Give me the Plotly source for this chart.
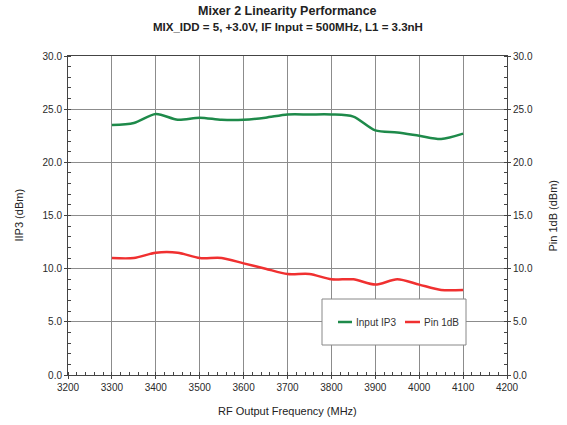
import plotly.graph_objects as go

freq = [3300, 3350, 3400, 3450, 3500, 3550, 3600, 3650, 3700, 3750, 3800, 3850, 3900, 3950, 4000, 4050, 4100]
iip3 = [23.5, 23.7, 24.55, 24.0, 24.2, 24.0, 24.0, 24.2, 24.5, 24.5, 24.5, 24.3, 23.0, 22.8, 22.5, 22.2, 22.7]
pin1db = [11.0, 11.0, 11.5, 11.5, 11.0, 11.0, 10.5, 10.0, 9.5, 9.5, 9.0, 9.0, 8.5, 9.0, 8.5, 8.0, 8.0]
series_names = ["Input IP3", "Pin 1dB"]
series_colors = ["#1e8a4a", "#f03030"]

font = "Liberation Sans, Arial, sans-serif"
grid = "#8c8c8c"
axcol = "#444444"
txt = "#222222"

fig = go.Figure()
fig.add_trace(go.Scatter(x=freq, y=iip3, name=series_names[0], mode="lines", showlegend=False,
                         line=dict(color=series_colors[0], width=2.5, shape="spline", smoothing=0.8)))
fig.add_trace(go.Scatter(x=freq, y=pin1db, name=series_names[1], mode="lines", yaxis="y2", showlegend=False,
                         line=dict(color=series_colors[1], width=2.5, shape="spline", smoothing=0.8)))

tickfont = dict(family=font, size=10, color="#2a2a2a")
L, R, T, B = 68, 60, 56, 50
ph = 425 - T - B
pw = 567 - L - R


def px(x):
    return (x - L) / pw


def py(y):
    return (425 - B - y) / ph


shapes = [dict(type="rect", xref="paper", yref="paper",
               x0=px(322), x1=px(466), y0=py(345), y1=py(299),
               line=dict(color="#888888", width=1), fillcolor="white", layer="above")]
annotations = []
leg = [(338, 352, 354), (405, 420, 422)]
for (lx0, lx1, tx), name, col in zip(leg, series_names, series_colors):
    shapes.append(dict(type="line", xref="paper", yref="paper", x0=px(lx0), x1=px(lx1),
                       y0=py(322), y1=py(322), line=dict(color=col, width=2.5), layer="above"))
    annotations.append(dict(text=name, xref="paper", yref="paper", x=px(tx), y=py(322),
                            xanchor="left", yanchor="middle", showarrow=False,
                            font=dict(family=font, size=10, color="#333333")))

annotations += [
    dict(text="<b>Mixer 2 Linearity Performance</b>", xref="paper", yref="paper",
         x=0.5, y=py(11), xanchor="center", yanchor="middle", showarrow=False,
         font=dict(family=font, size=12.5, color=txt)),
    dict(text="<b>MIX_IDD = 5, +3.0V, IF Input = 500MHz, L1 = 3.3nH</b>", xref="paper", yref="paper",
         x=0.5, y=py(27), xanchor="center", yanchor="middle", showarrow=False,
         font=dict(family=font, size=11.5, color=txt)),
    dict(text="RF Output Frequency (MHz)", xref="paper", yref="paper",
         x=0.5, y=py(411), xanchor="center", yanchor="middle", showarrow=False,
         font=dict(family=font, size=11, color=txt)),
    dict(text="IIP3 (dBm)", xref="paper", yref="paper", textangle=-90,
         x=px(18), y=0.5, xanchor="center", yanchor="middle", showarrow=False,
         font=dict(family=font, size=11, color=txt)),
    dict(text="Pin 1dB (dBm)", xref="paper", yref="paper", textangle=-90,
         x=px(552), y=0.5, xanchor="center", yanchor="middle", showarrow=False,
         font=dict(family=font, size=11, color=txt)),
]

fig.update_layout(
    width=567, height=425,
    margin=dict(l=L, r=R, t=T, b=B, autoexpand=False),
    paper_bgcolor="white", plot_bgcolor="white",
    xaxis=dict(range=[3200, 4200], dtick=100, tick0=3200, showgrid=True, gridcolor=grid, gridwidth=1,
               showline=True, linecolor=axcol, linewidth=1, mirror=True,
               ticks="outside", ticklen=3, tickcolor=axcol, tickfont=tickfont, automargin=False,
               minor=dict(dtick=20, ticks="inside", ticklen=3, tickcolor=axcol, showgrid=False),
               zeroline=False),
    yaxis=dict(range=[0, 30], dtick=5, tickformat=".1f", showgrid=True, gridcolor=grid, gridwidth=1,
               showline=True, linecolor=axcol, linewidth=1,
               ticks="outside", ticklen=3, tickcolor=axcol, tickfont=tickfont, automargin=False,
               minor=dict(dtick=1, ticks="inside", ticklen=3, tickcolor=axcol, showgrid=False),
               zeroline=False),
    yaxis2=dict(range=[0, 30], dtick=5, tickformat=".1f", overlaying="y", side="right", showgrid=False,
                showline=True, linecolor=axcol, linewidth=1,
                ticks="outside", ticklen=3, tickcolor=axcol, tickfont=tickfont, automargin=False,
                minor=dict(dtick=1, ticks="inside", ticklen=3, tickcolor=axcol),
                zeroline=False),
    shapes=shapes,
    annotations=annotations,
    showlegend=False,
)

fig.write_html("out.html", config={"displayModeBar": False},
               post_script="document.body.style.margin='0';")
